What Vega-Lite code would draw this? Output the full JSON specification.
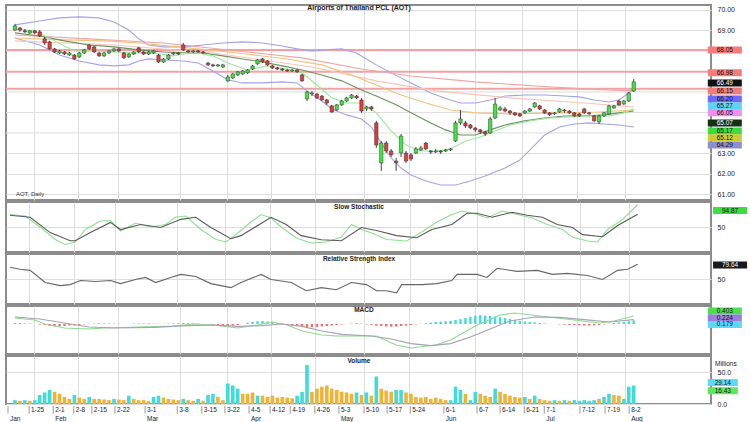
{
"$schema": "https://vega.github.io/schema/vega-lite/v6.json",
"padding": {"left": 4, "top": 2, "right": 0, "bottom": 0},
"background": "white",
"spacing": 2,
"bounds": "flush",
"resolve": {"scale": {"color": "independent"}},
"config": {
  "view": {"stroke": "#8c8c8c", "strokeWidth": 2},
  "axis": {"labelFont": "Liberation Sans", "labelFontSize": 7, "labelColor": "#222", "gridColor": "#dddddd", "gridWidth": 1, "domainColor": "#888", "labelOverlap": false},
  "text": {"font": "Liberation Sans"}
},
"datasets": {
"k": [
{"i":0,"o":69.02,"h":69.32,"l":68.98,"c":69.22,"v":6,"u":"u","m":0.05},
{"i":1,"o":69.12,"h":69.17,"l":68.93,"c":69.02,"v":5,"u":"d","m":0.04},
{"i":2,"o":68.98,"h":69.07,"l":68.88,"c":68.93,"v":6,"u":"u","m":0.03},
{"i":3,"o":68.88,"h":69.02,"l":68.83,"c":68.98,"v":5,"u":"d","m":0.02},
{"i":4,"o":68.98,"h":69.02,"l":68.83,"c":68.88,"v":6,"u":"u","m":0.0},
{"i":5,"o":68.93,"h":69.02,"l":68.68,"c":68.73,"v":14,"u":"u","m":-0.03},
{"i":6,"o":68.59,"h":68.68,"l":68.29,"c":68.39,"v":18,"u":"u","m":-0.06},
{"i":7,"o":68.44,"h":68.49,"l":68.05,"c":68.10,"v":22,"u":"u","m":-0.1},
{"i":8,"o":68.10,"h":68.15,"l":67.90,"c":67.95,"v":19,"u":"d","m":-0.12},
{"i":9,"o":67.90,"h":68.05,"l":67.85,"c":68.00,"v":16,"u":"d","m":-0.12},
{"i":10,"o":67.95,"h":68.00,"l":67.80,"c":67.85,"v":11,"u":"d","m":-0.1},
{"i":11,"o":67.80,"h":67.95,"l":67.76,"c":67.90,"v":8,"u":"d","m":-0.08},
{"i":12,"o":67.80,"h":67.85,"l":67.56,"c":67.61,"v":14,"u":"u","m":-0.08},
{"i":13,"o":67.71,"h":67.95,"l":67.66,"c":67.90,"v":10,"u":"d","m":-0.05},
{"i":14,"o":67.90,"h":68.10,"l":67.85,"c":68.05,"v":8,"u":"d","m":-0.02},
{"i":15,"o":68.29,"h":68.34,"l":68.05,"c":68.10,"v":11,"u":"u","m":0.01},
{"i":16,"o":68.20,"h":68.24,"l":67.90,"c":67.95,"v":8,"u":"d","m":0.02},
{"i":17,"o":67.90,"h":67.95,"l":67.71,"c":67.76,"v":8,"u":"d","m":0.03},
{"i":18,"o":67.76,"h":67.95,"l":67.71,"c":67.90,"v":7,"u":"d","m":0.03},
{"i":19,"o":67.90,"h":68.05,"l":67.85,"c":68.00,"v":6,"u":"d","m":0.02},
{"i":20,"o":68.00,"h":68.15,"l":67.95,"c":68.10,"v":8,"u":"u","m":0.02},
{"i":21,"o":68.10,"h":68.15,"l":67.95,"c":68.00,"v":7,"u":"d","m":0.01},
{"i":22,"o":67.90,"h":67.95,"l":67.61,"c":67.66,"v":6,"u":"d","m":0.0},
{"i":23,"o":67.71,"h":67.90,"l":67.66,"c":67.85,"v":13,"u":"u","m":0.01},
{"i":24,"o":67.85,"h":68.00,"l":67.80,"c":67.95,"v":8,"u":"d","m":0.02},
{"i":25,"o":68.15,"h":68.20,"l":67.90,"c":67.95,"v":6,"u":"d","m":0.02},
{"i":26,"o":67.95,"h":68.00,"l":67.80,"c":67.85,"v":6,"u":"d","m":0.03},
{"i":27,"o":67.85,"h":68.00,"l":67.80,"c":67.95,"v":5,"u":"d","m":0.03},
{"i":28,"o":67.90,"h":68.05,"l":67.85,"c":68.00,"v":11,"u":"u","m":0.02},
{"i":29,"o":67.80,"h":67.85,"l":67.41,"c":67.46,"v":13,"u":"u","m":0.01},
{"i":30,"o":67.46,"h":67.66,"l":67.41,"c":67.61,"v":10,"u":"d","m":0.01},
{"i":31,"o":67.61,"h":67.85,"l":67.56,"c":67.80,"v":8,"u":"d","m":0.02},
{"i":32,"o":67.85,"h":67.95,"l":67.80,"c":67.90,"v":7,"u":"d","m":0.03},
{"i":33,"o":67.90,"h":67.95,"l":67.80,"c":67.85,"v":6,"u":"d","m":0.04},
{"i":34,"o":68.29,"h":68.39,"l":68.00,"c":68.05,"v":8,"u":"u","m":0.05},
{"i":35,"o":68.00,"h":68.05,"l":67.90,"c":67.95,"v":6,"u":"d","m":0.04},
{"i":36,"o":67.95,"h":68.05,"l":67.90,"c":68.00,"v":5,"u":"d","m":0.03},
{"i":37,"o":68.00,"h":68.05,"l":67.90,"c":67.95,"v":8,"u":"u","m":0.02},
{"i":38,"o":67.95,"h":68.00,"l":67.85,"c":67.90,"v":5,"u":"d","m":0.0},
{"i":39,"o":67.41,"h":67.46,"l":67.27,"c":67.32,"v":14,"u":"u","m":-0.03},
{"i":40,"o":67.32,"h":67.37,"l":67.22,"c":67.27,"v":16,"u":"u","m":-0.06},
{"i":41,"o":67.27,"h":67.37,"l":67.22,"c":67.32,"v":11,"u":"d","m":-0.08},
{"i":42,"o":67.22,"h":67.37,"l":67.17,"c":67.32,"v":6,"u":"d","m":-0.1},
{"i":43,"o":66.54,"h":66.83,"l":66.49,"c":66.73,"v":32,"u":"u","m":-0.1},
{"i":44,"o":66.68,"h":66.93,"l":66.63,"c":66.88,"v":29,"u":"u","m":-0.08},
{"i":45,"o":66.83,"h":67.02,"l":66.78,"c":66.98,"v":24,"u":"u","m":-0.05},
{"i":46,"o":66.88,"h":67.07,"l":66.83,"c":67.02,"v":16,"u":"d","m":0.0},
{"i":47,"o":66.93,"h":67.12,"l":66.88,"c":67.07,"v":16,"u":"d","m":0.06},
{"i":48,"o":67.12,"h":67.32,"l":67.07,"c":67.27,"v":18,"u":"d","m":0.1},
{"i":49,"o":67.37,"h":67.61,"l":67.32,"c":67.56,"v":13,"u":"u","m":0.14},
{"i":50,"o":67.61,"h":67.66,"l":67.41,"c":67.46,"v":13,"u":"d","m":0.15},
{"i":51,"o":67.51,"h":67.56,"l":67.27,"c":67.32,"v":11,"u":"d","m":0.12},
{"i":52,"o":67.27,"h":67.32,"l":67.12,"c":67.17,"v":13,"u":"d","m":0.08},
{"i":53,"o":67.17,"h":67.22,"l":67.07,"c":67.12,"v":10,"u":"d","m":0.04},
{"i":54,"o":67.12,"h":67.17,"l":67.02,"c":67.07,"v":11,"u":"d","m":0.0},
{"i":55,"o":67.07,"h":67.12,"l":66.98,"c":67.02,"v":10,"u":"d","m":-0.04},
{"i":56,"o":67.02,"h":67.12,"l":66.98,"c":67.07,"v":9,"u":"d","m":-0.08},
{"i":57,"o":67.07,"h":67.12,"l":66.93,"c":66.98,"v":13,"u":"u","m":-0.1},
{"i":58,"o":66.83,"h":66.88,"l":66.49,"c":66.54,"v":19,"u":"u","m":-0.14},
{"i":59,"o":65.66,"h":66.05,"l":65.56,"c":66.00,"v":61,"u":"u","m":-0.18},
{"i":60,"o":65.90,"h":66.05,"l":65.80,"c":65.95,"v":19,"u":"d","m":-0.16},
{"i":61,"o":65.90,"h":65.95,"l":65.66,"c":65.71,"v":24,"u":"d","m":-0.14},
{"i":62,"o":65.80,"h":65.85,"l":65.56,"c":65.61,"v":27,"u":"d","m":-0.12},
{"i":63,"o":65.61,"h":65.66,"l":65.37,"c":65.46,"v":29,"u":"d","m":-0.1},
{"i":64,"o":65.32,"h":65.37,"l":64.98,"c":65.02,"v":24,"u":"d","m":-0.08},
{"i":65,"o":65.12,"h":65.41,"l":65.07,"c":65.37,"v":22,"u":"d","m":-0.05},
{"i":66,"o":65.37,"h":65.61,"l":65.32,"c":65.56,"v":19,"u":"d","m":-0.03},
{"i":67,"o":65.56,"h":65.76,"l":65.51,"c":65.71,"v":18,"u":"d","m":0.0},
{"i":68,"o":65.71,"h":65.90,"l":65.66,"c":65.85,"v":16,"u":"d","m":0.03},
{"i":69,"o":65.80,"h":65.85,"l":65.66,"c":65.71,"v":18,"u":"u","m":0.04},
{"i":70,"o":65.61,"h":65.71,"l":64.98,"c":65.07,"v":14,"u":"d","m":0.02},
{"i":71,"o":65.17,"h":65.32,"l":65.07,"c":65.27,"v":18,"u":"u","m":-0.02},
{"i":72,"o":65.27,"h":65.32,"l":65.07,"c":65.17,"v":13,"u":"d","m":-0.04},
{"i":73,"o":64.49,"h":64.59,"l":63.27,"c":63.41,"v":43,"u":"u","m":-0.08},
{"i":74,"o":62.54,"h":63.61,"l":62.15,"c":63.51,"v":24,"u":"d","m":-0.1},
{"i":75,"o":63.51,"h":63.61,"l":63.02,"c":63.12,"v":21,"u":"d","m":-0.12},
{"i":76,"o":63.12,"h":63.22,"l":62.83,"c":62.93,"v":19,"u":"d","m":-0.13},
{"i":77,"o":62.63,"h":62.78,"l":62.15,"c":62.54,"v":22,"u":"u","m":-0.13},
{"i":78,"o":63.02,"h":63.95,"l":62.83,"c":63.85,"v":22,"u":"u","m":-0.1},
{"i":79,"o":63.02,"h":63.12,"l":62.54,"c":62.63,"v":18,"u":"d","m":-0.08},
{"i":80,"o":62.93,"h":63.02,"l":62.63,"c":62.73,"v":16,"u":"d","m":-0.05},
{"i":81,"o":63.02,"h":63.32,"l":62.98,"c":63.22,"v":11,"u":"d","m":-0.02},
{"i":82,"o":63.17,"h":63.37,"l":63.12,"c":63.27,"v":10,"u":"d","m":0.01},
{"i":83,"o":63.51,"h":63.56,"l":63.17,"c":63.22,"v":11,"u":"d","m":0.04},
{"i":84,"o":63.12,"h":63.17,"l":62.98,"c":63.07,"v":8,"u":"d","m":0.07},
{"i":85,"o":63.07,"h":63.22,"l":63.02,"c":63.12,"v":10,"u":"d","m":0.1},
{"i":86,"o":63.12,"h":63.17,"l":62.98,"c":63.07,"v":8,"u":"d","m":0.12},
{"i":87,"o":63.12,"h":63.22,"l":63.07,"c":63.17,"v":6,"u":"d","m":0.14},
{"i":88,"o":63.17,"h":63.27,"l":63.12,"c":63.22,"v":6,"u":"u","m":0.16},
{"i":89,"o":63.61,"h":64.59,"l":63.56,"c":64.49,"v":27,"u":"u","m":0.2},
{"i":90,"o":64.49,"h":65.12,"l":64.39,"c":64.68,"v":22,"u":"u","m":0.24},
{"i":91,"o":64.49,"h":64.59,"l":64.24,"c":64.34,"v":16,"u":"d","m":0.3},
{"i":92,"o":64.39,"h":64.44,"l":64.20,"c":64.24,"v":6,"u":"u","m":0.36},
{"i":93,"o":64.24,"h":64.29,"l":64.05,"c":64.15,"v":19,"u":"u","m":0.42},
{"i":94,"o":64.15,"h":64.20,"l":63.95,"c":64.05,"v":16,"u":"d","m":0.44},
{"i":95,"o":64.05,"h":64.10,"l":63.85,"c":63.95,"v":13,"u":"d","m":0.42},
{"i":96,"o":64.00,"h":64.78,"l":63.95,"c":64.68,"v":11,"u":"d","m":0.4},
{"i":97,"o":64.73,"h":65.71,"l":64.68,"c":65.41,"v":24,"u":"u","m":0.38},
{"i":98,"o":65.12,"h":65.32,"l":65.07,"c":65.22,"v":19,"u":"d","m":0.34},
{"i":99,"o":65.17,"h":65.27,"l":65.02,"c":65.07,"v":16,"u":"d","m":0.3},
{"i":100,"o":65.07,"h":65.12,"l":64.88,"c":64.98,"v":13,"u":"d","m":0.25},
{"i":101,"o":64.98,"h":65.02,"l":64.83,"c":64.88,"v":11,"u":"d","m":0.2},
{"i":102,"o":64.93,"h":64.98,"l":64.78,"c":64.83,"v":10,"u":"d","m":0.16},
{"i":103,"o":64.98,"h":65.12,"l":64.93,"c":65.07,"v":11,"u":"u","m":0.12},
{"i":104,"o":65.07,"h":65.22,"l":65.02,"c":65.17,"v":8,"u":"d","m":0.1},
{"i":105,"o":65.27,"h":65.51,"l":65.22,"c":65.46,"v":13,"u":"u","m":0.08},
{"i":106,"o":65.32,"h":65.37,"l":65.12,"c":65.17,"v":8,"u":"d","m":0.05},
{"i":107,"o":65.12,"h":65.17,"l":64.93,"c":64.98,"v":6,"u":"d","m":0.03},
{"i":108,"o":64.98,"h":65.02,"l":64.83,"c":64.88,"v":5,"u":"d","m":0.01},
{"i":109,"o":64.93,"h":65.02,"l":64.88,"c":64.98,"v":6,"u":"u","m":0.0},
{"i":110,"o":65.02,"h":65.22,"l":64.98,"c":65.17,"v":5,"u":"d","m":-0.02},
{"i":111,"o":65.12,"h":65.17,"l":64.98,"c":65.07,"v":6,"u":"u","m":-0.03},
{"i":112,"o":65.07,"h":65.12,"l":64.93,"c":64.98,"v":5,"u":"d","m":-0.05},
{"i":113,"o":64.98,"h":65.02,"l":64.78,"c":64.83,"v":6,"u":"u","m":-0.06},
{"i":114,"o":64.93,"h":64.98,"l":64.78,"c":64.83,"v":5,"u":"u","m":-0.07},
{"i":115,"o":65.17,"h":65.22,"l":64.93,"c":64.98,"v":6,"u":"u","m":-0.08},
{"i":116,"o":64.98,"h":65.02,"l":64.88,"c":64.93,"v":5,"u":"u","m":-0.08},
{"i":117,"o":64.83,"h":64.88,"l":64.54,"c":64.59,"v":6,"u":"u","m":-0.07},
{"i":118,"o":64.54,"h":64.88,"l":64.44,"c":64.83,"v":8,"u":"d","m":-0.05},
{"i":119,"o":64.83,"h":65.02,"l":64.78,"c":64.98,"v":11,"u":"u","m":-0.02},
{"i":120,"o":64.93,"h":65.37,"l":64.88,"c":65.32,"v":16,"u":"u","m":0.02},
{"i":121,"o":65.22,"h":65.37,"l":65.17,"c":65.32,"v":14,"u":"d","m":0.05},
{"i":122,"o":65.56,"h":65.61,"l":65.32,"c":65.37,"v":13,"u":"d","m":0.08},
{"i":123,"o":65.41,"h":65.61,"l":65.37,"c":65.56,"v":8,"u":"u","m":0.1},
{"i":124,"o":65.56,"h":66.00,"l":65.51,"c":65.95,"v":27,"u":"u","m":0.14},
{"i":125,"o":66.05,"h":66.63,"l":66.00,"c":66.49,"v":29,"u":"u","m":0.18}
],
"ln": [
{"s":"bbU","i":0,"v":69.27},{"s":"bbU","i":5,"v":69.46},{"s":"bbU","i":9,"v":69.61},{"s":"bbU","i":13,"v":69.66},{"s":"bbU","i":17,"v":69.61},{"s":"bbU","i":20,"v":69.41},{"s":"bbU","i":23,"v":69.02},{"s":"bbU","i":25,"v":68.59},{"s":"bbU","i":27,"v":68.29},{"s":"bbU","i":30,"v":68.20},{"s":"bbU","i":34,"v":68.20},{"s":"bbU","i":38,"v":68.29},{"s":"bbU","i":42,"v":68.39},{"s":"bbU","i":46,"v":68.44},{"s":"bbU","i":50,"v":68.39},{"s":"bbU","i":54,"v":68.24},{"s":"bbU","i":57,"v":68.10},{"s":"bbU","i":60,"v":68.00},{"s":"bbU","i":63,"v":68.05},{"s":"bbU","i":66,"v":68.10},{"s":"bbU","i":69,"v":67.90},{"s":"bbU","i":71,"v":67.61},{"s":"bbU","i":73,"v":67.32},{"s":"bbU","i":76,"v":66.93},{"s":"bbU","i":80,"v":66.44},{"s":"bbU","i":84,"v":65.95},{"s":"bbU","i":88,"v":65.61},{"s":"bbU","i":90,"v":65.46},{"s":"bbU","i":93,"v":65.46},{"s":"bbU","i":96,"v":65.61},{"s":"bbU","i":99,"v":65.80},{"s":"bbU","i":103,"v":65.85},{"s":"bbU","i":107,"v":65.85},{"s":"bbU","i":111,"v":65.80},{"s":"bbU","i":114,"v":65.76},{"s":"bbU","i":117,"v":65.61},{"s":"bbU","i":120,"v":65.51},{"s":"bbU","i":122,"v":65.61},{"s":"bbU","i":124,"v":65.95},{"s":"bbU","i":125,"v":66.20},
{"s":"bbL","i":0,"v":68.63},{"s":"bbL","i":5,"v":68.29},{"s":"bbL","i":9,"v":67.80},{"s":"bbL","i":13,"v":67.51},{"s":"bbL","i":17,"v":67.32},{"s":"bbL","i":20,"v":67.27},{"s":"bbL","i":23,"v":67.32},{"s":"bbL","i":25,"v":67.51},{"s":"bbL","i":27,"v":67.61},{"s":"bbL","i":30,"v":67.56},{"s":"bbL","i":34,"v":67.51},{"s":"bbL","i":37,"v":67.41},{"s":"bbL","i":40,"v":67.02},{"s":"bbL","i":43,"v":66.59},{"s":"bbL","i":46,"v":66.44},{"s":"bbL","i":50,"v":66.44},{"s":"bbL","i":54,"v":66.49},{"s":"bbL","i":57,"v":66.44},{"s":"bbL","i":59,"v":66.05},{"s":"bbL","i":62,"v":65.56},{"s":"bbL","i":64,"v":65.17},{"s":"bbL","i":67,"v":64.88},{"s":"bbL","i":70,"v":64.68},{"s":"bbL","i":72,"v":64.29},{"s":"bbL","i":74,"v":63.51},{"s":"bbL","i":76,"v":62.78},{"s":"bbL","i":78,"v":62.29},{"s":"bbL","i":80,"v":61.95},{"s":"bbL","i":83,"v":61.66},{"s":"bbL","i":86,"v":61.46},{"s":"bbL","i":89,"v":61.46},{"s":"bbL","i":92,"v":61.66},{"s":"bbL","i":95,"v":61.90},{"s":"bbL","i":99,"v":62.29},{"s":"bbL","i":102,"v":62.68},{"s":"bbL","i":105,"v":63.41},{"s":"bbL","i":107,"v":63.90},{"s":"bbL","i":110,"v":64.29},{"s":"bbL","i":113,"v":64.44},{"s":"bbL","i":116,"v":64.49},{"s":"bbL","i":119,"v":64.44},{"s":"bbL","i":122,"v":64.39},{"s":"bbL","i":125,"v":64.29},
{"s":"maE","i":0,"v":68.49},{"s":"maE","i":20,"v":68.29},{"s":"maE","i":40,"v":67.90},{"s":"maE","i":60,"v":67.22},{"s":"maE","i":73,"v":66.54},{"s":"maE","i":85,"v":66.05},{"s":"maE","i":100,"v":65.71},{"s":"maE","i":115,"v":65.46},{"s":"maE","i":125,"v":65.27},
{"s":"maD","i":0,"v":68.78},{"s":"maD","i":15,"v":68.59},{"s":"maD","i":30,"v":68.39},{"s":"maD","i":45,"v":68.00},{"s":"maD","i":58,"v":67.66},{"s":"maD","i":70,"v":67.12},{"s":"maD","i":80,"v":66.78},{"s":"maD","i":93,"v":66.49},{"s":"maD","i":105,"v":66.29},{"s":"maD","i":115,"v":66.15},{"s":"maD","i":125,"v":66.05},
{"s":"maC","i":0,"v":68.63},{"s":"maC","i":10,"v":68.54},{"s":"maC","i":18,"v":68.49},{"s":"maC","i":25,"v":68.39},{"s":"maC","i":35,"v":68.15},{"s":"maC","i":45,"v":67.90},{"s":"maC","i":55,"v":67.61},{"s":"maC","i":62,"v":67.32},{"s":"maC","i":68,"v":66.83},{"s":"maC","i":73,"v":66.34},{"s":"maC","i":78,"v":65.85},{"s":"maC","i":83,"v":65.46},{"s":"maC","i":88,"v":65.12},{"s":"maC","i":93,"v":64.98},{"s":"maC","i":100,"v":64.93},{"s":"maC","i":110,"v":64.98},{"s":"maC","i":118,"v":65.02},{"s":"maC","i":125,"v":65.12},
{"s":"maA","i":0,"v":68.88},{"s":"maA","i":5,"v":68.73},{"s":"maA","i":10,"v":68.49},{"s":"maA","i":15,"v":68.29},{"s":"maA","i":20,"v":68.20},{"s":"maA","i":25,"v":68.05},{"s":"maA","i":30,"v":67.95},{"s":"maA","i":35,"v":67.90},{"s":"maA","i":38,"v":67.90},{"s":"maA","i":42,"v":67.76},{"s":"maA","i":46,"v":67.61},{"s":"maA","i":50,"v":67.46},{"s":"maA","i":54,"v":67.27},{"s":"maA","i":58,"v":67.07},{"s":"maA","i":62,"v":66.83},{"s":"maA","i":66,"v":66.54},{"s":"maA","i":70,"v":66.10},{"s":"maA","i":73,"v":65.80},{"s":"maA","i":77,"v":65.37},{"s":"maA","i":80,"v":64.98},{"s":"maA","i":84,"v":64.49},{"s":"maA","i":87,"v":64.15},{"s":"maA","i":90,"v":63.90},{"s":"maA","i":93,"v":63.90},{"s":"maA","i":96,"v":64.15},{"s":"maA","i":99,"v":64.39},{"s":"maA","i":103,"v":64.59},{"s":"maA","i":107,"v":64.73},{"s":"maA","i":111,"v":64.83},{"s":"maA","i":115,"v":64.83},{"s":"maA","i":119,"v":64.88},{"s":"maA","i":122,"v":64.98},{"s":"maA","i":125,"v":65.07},
{"s":"maB","i":0,"v":69.07},{"s":"maB","i":4,"v":68.98},{"s":"maB","i":8,"v":68.49},{"s":"maB","i":12,"v":68.00},{"s":"maB","i":16,"v":68.00},{"s":"maB","i":20,"v":67.95},{"s":"maB","i":24,"v":67.90},{"s":"maB","i":28,"v":67.90},{"s":"maB","i":32,"v":67.76},{"s":"maB","i":36,"v":67.95},{"s":"maB","i":40,"v":67.76},{"s":"maB","i":43,"v":67.41},{"s":"maB","i":47,"v":67.07},{"s":"maB","i":51,"v":67.27},{"s":"maB","i":55,"v":67.12},{"s":"maB","i":58,"v":66.93},{"s":"maB","i":61,"v":66.34},{"s":"maB","i":64,"v":65.71},{"s":"maB","i":67,"v":65.46},{"s":"maB","i":70,"v":65.46},{"s":"maB","i":73,"v":64.98},{"s":"maB","i":76,"v":64.10},{"s":"maB","i":79,"v":63.41},{"s":"maB","i":82,"v":63.12},{"s":"maB","i":85,"v":63.12},{"s":"maB","i":88,"v":63.22},{"s":"maB","i":91,"v":63.61},{"s":"maB","i":94,"v":63.80},{"s":"maB","i":97,"v":64.10},{"s":"maB","i":100,"v":64.39},{"s":"maB","i":104,"v":64.59},{"s":"maB","i":108,"v":64.73},{"s":"maB","i":112,"v":64.78},{"s":"maB","i":116,"v":64.83},{"s":"maB","i":120,"v":64.83},{"s":"maB","i":123,"v":64.98},{"s":"maB","i":125,"v":65.17}
],
"hl": [{"p":68.05},{"p":66.98},{"p":66.15}],
"gy": [{"p":64},{"p":65},{"p":66},{"p":67},{"p":68}],
"pbP": [
{"k":"r","p":68.05,"t":"68.05"},{"k":"r","p":66.93,"t":"66.98"},{"k":"last","p":66.44,"t":"66.49"},{"k":"r","p":66.05,"t":"66.15"},{"k":"b","p":65.66,"t":"66.20"},{"k":"cy","p":65.32,"t":"65.27"},{"k":"mg","p":64.98,"t":"66.05"},{"k":"dk","p":64.49,"t":"65.07"},{"k":"gr","p":64.10,"t":"65.17"},{"k":"ye","p":63.76,"t":"65.12"},{"k":"pu","p":63.41,"t":"64.29"}
],
"st": [
{"s":"K","i":0,"v":75},{"s":"K","i":3,"v":72},{"s":"K","i":6,"v":50},{"s":"K","i":9,"v":25},{"s":"K","i":11,"v":15},{"s":"K","i":13,"v":20},{"s":"K","i":15,"v":45},{"s":"K","i":18,"v":62},{"s":"K","i":20,"v":63},{"s":"K","i":22,"v":42},{"s":"K","i":25,"v":58},{"s":"K","i":28,"v":50},{"s":"K","i":31,"v":55},{"s":"K","i":33,"v":70},{"s":"K","i":35,"v":72},{"s":"K","i":38,"v":45},{"s":"K","i":41,"v":25},{"s":"K","i":43,"v":20},{"s":"K","i":45,"v":35},{"s":"K","i":48,"v":60},{"s":"K","i":50,"v":75},{"s":"K","i":52,"v":68},{"s":"K","i":54,"v":50},{"s":"K","i":57,"v":28},{"s":"K","i":60,"v":18},{"s":"K","i":63,"v":20},{"s":"K","i":66,"v":30},{"s":"K","i":68,"v":55},{"s":"K","i":70,"v":45},{"s":"K","i":72,"v":38},{"s":"K","i":75,"v":25},{"s":"K","i":79,"v":22},{"s":"K","i":82,"v":40},{"s":"K","i":85,"v":60},{"s":"K","i":88,"v":75},{"s":"K","i":90,"v":82},{"s":"K","i":93,"v":75},{"s":"K","i":95,"v":68},{"s":"K","i":98,"v":82},{"s":"K","i":101,"v":75},{"s":"K","i":104,"v":68},{"s":"K","i":107,"v":55},{"s":"K","i":110,"v":45},{"s":"K","i":112,"v":30},{"s":"K","i":115,"v":22},{"s":"K","i":117,"v":20},{"s":"K","i":119,"v":45},{"s":"K","i":122,"v":65},{"s":"K","i":125,"v":95},
{"s":"D","i":0,"v":73.5},{"s":"D","i":4,"v":69.4},{"s":"D","i":8,"v":38.8},{"s":"D","i":12,"v":22.4},{"s":"D","i":13,"v":22.4},{"s":"D","i":16,"v":38.8},{"s":"D","i":20,"v":59.2},{"s":"D","i":22,"v":44.9},{"s":"D","i":26,"v":55.1},{"s":"D","i":30,"v":49},{"s":"D","i":34,"v":65.3},{"s":"D","i":37,"v":69.4},{"s":"D","i":40,"v":49},{"s":"D","i":44,"v":26.5},{"s":"D","i":46,"v":32.7},{"s":"D","i":52,"v":69.4},{"s":"D","i":55,"v":55.1},{"s":"D","i":58,"v":32.7},{"s":"D","i":62,"v":24.5},{"s":"D","i":66,"v":22.4},{"s":"D","i":70,"v":49},{"s":"D","i":73,"v":42.9},{"s":"D","i":77,"v":32.7},{"s":"D","i":81,"v":28.6},{"s":"D","i":84,"v":44.9},{"s":"D","i":88,"v":55.1},{"s":"D","i":91,"v":77.6},{"s":"D","i":93,"v":77.6},{"s":"D","i":96,"v":69.4},{"s":"D","i":100,"v":79.6},{"s":"D","i":103,"v":73.5},{"s":"D","i":106,"v":69.4},{"s":"D","i":109,"v":55.1},{"s":"D","i":112,"v":49},{"s":"D","i":114,"v":34.7},{"s":"D","i":118,"v":30.6},{"s":"D","i":121,"v":53.1},{"s":"D","i":125,"v":75.5}
],
"pbS": [{"k":"gr","p":83,"t":"94.87"}],
"rsi": [
{"i":0,"v":73.5},{"i":2,"v":69.4},{"i":4,"v":67.3},{"i":7,"v":42.9},{"i":10,"v":36.7},{"i":12,"v":38.8},{"i":14,"v":46.9},{"i":17,"v":44.9},{"i":20,"v":46.9},{"i":22,"v":40.8},{"i":25,"v":49},{"i":27,"v":53.1},{"i":29,"v":42.9},{"i":32,"v":53.1},{"i":34,"v":59.2},{"i":37,"v":55.1},{"i":40,"v":40.8},{"i":44,"v":32.7},{"i":46,"v":42.9},{"i":50,"v":59.2},{"i":52,"v":49},{"i":56,"v":42.9},{"i":59,"v":26.5},{"i":62,"v":32.7},{"i":65,"v":28.6},{"i":68,"v":42.9},{"i":71,"v":38.8},{"i":73,"v":26.5},{"i":75,"v":26.5},{"i":77,"v":22.4},{"i":78,"v":38.8},{"i":82,"v":38.8},{"i":85,"v":40.8},{"i":88,"v":46.9},{"i":89,"v":59.2},{"i":93,"v":59.2},{"i":95,"v":53.1},{"i":97,"v":71.4},{"i":101,"v":65.3},{"i":105,"v":67.3},{"i":108,"v":59.2},{"i":111,"v":61.2},{"i":115,"v":57.1},{"i":118,"v":49},{"i":121,"v":67.3},{"i":123,"v":69.4},{"i":125,"v":79.6}
],
"pbR": [{"k":"dk","p":78,"t":"79.64"}],
"md": [
{"s":"macd","i":0,"v":0.30},{"s":"macd","i":4,"v":0.20},{"s":"macd","i":6,"v":0.0},{"s":"macd","i":10,"v":-0.20},{"s":"macd","i":15,"v":-0.25},{"s":"macd","i":18,"v":-0.20},{"s":"macd","i":25,"v":-0.15},{"s":"macd","i":32,"v":-0.10},{"s":"macd","i":36,"v":0.0},{"s":"macd","i":40,"v":-0.05},{"s":"macd","i":45,"v":-0.20},{"s":"macd","i":49,"v":-0.05},{"s":"macd","i":52,"v":0.10},{"s":"macd","i":55,"v":-0.05},{"s":"macd","i":58,"v":-0.35},{"s":"macd","i":62,"v":-0.55},{"s":"macd","i":65,"v":-0.60},{"s":"macd","i":68,"v":-0.60},{"s":"macd","i":73,"v":-0.60},{"s":"macd","i":77,"v":-1.05},{"s":"macd","i":80,"v":-1.20},{"s":"macd","i":85,"v":-1.05},{"s":"macd","i":88,"v":-0.80},{"s":"macd","i":93,"v":-0.10},{"s":"macd","i":98,"v":0.45},{"s":"macd","i":101,"v":0.55},{"s":"macd","i":106,"v":0.40},{"s":"macd","i":113,"v":0.20},{"s":"macd","i":118,"v":0.05},{"s":"macd","i":121,"v":0.15},{"s":"macd","i":125,"v":0.40},
{"s":"sig","i":0,"v":0.35},{"s":"sig","i":5,"v":0.25},{"s":"sig","i":10,"v":0.05},{"s":"sig","i":15,"v":-0.15},{"s":"sig","i":20,"v":-0.20},{"s":"sig","i":28,"v":-0.17},{"s":"sig","i":35,"v":-0.08},{"s":"sig","i":40,"v":-0.05},{"s":"sig","i":45,"v":-0.12},{"s":"sig","i":50,"v":-0.08},{"s":"sig","i":54,"v":0.0},{"s":"sig","i":58,"v":-0.12},{"s":"sig","i":62,"v":-0.35},{"s":"sig","i":66,"v":-0.52},{"s":"sig","i":72,"v":-0.60},{"s":"sig","i":76,"v":-0.75},{"s":"sig","i":80,"v":-0.98},{"s":"sig","i":84,"v":-1.08},{"s":"sig","i":88,"v":-0.98},{"s":"sig","i":92,"v":-0.65},{"s":"sig","i":96,"v":-0.25},{"s":"sig","i":100,"v":0.15},{"s":"sig","i":105,"v":0.35},{"s":"sig","i":110,"v":0.33},{"s":"sig","i":115,"v":0.22},{"s":"sig","i":120,"v":0.10},{"s":"sig","i":125,"v":0.22}
],
"pbM": [{"k":"gr","p":0.65,"t":"0.403"},{"k":"pu","p":0.30,"t":"0.224"},{"k":"cy","p":-0.02,"t":"0.179"}],
"pbV": [{"k":"cy","p":33.5,"t":"29.14"},{"k":"gr","p":20.7,"t":"16.43"}],
"ax": [
{"x":-0.4,"d":"","mo":"Jan"},{"x":3.8,"d":"1-25","mo":""},{"x":8.6,"d":"2-1","mo":"Feb"},{"x":12.7,"d":"2-8","mo":""},{"x":16.3,"d":"2-15","mo":""},{"x":20.9,"d":"2-22","mo":""},{"x":26.9,"d":"3-1","mo":"Mar"},{"x":33.3,"d":"3-8","mo":""},{"x":38.2,"d":"3-15","mo":""},{"x":42.8,"d":"3-22","mo":""},{"x":47.6,"d":"4-5","mo":"Apr"},{"x":51.8,"d":"4-12","mo":""},{"x":55.8,"d":"4-19","mo":""},{"x":60.7,"d":"4-26","mo":""},{"x":65.5,"d":"5-3","mo":"May"},{"x":70.5,"d":"5-10","mo":""},{"x":75.1,"d":"5-17","mo":""},{"x":79.7,"d":"5-24","mo":""},{"x":86.4,"d":"6-1","mo":"Jun"},{"x":93,"d":"6-7","mo":""},{"x":97.6,"d":"6-14","mo":""},{"x":102.4,"d":"6-21","mo":""},{"x":106.4,"d":"7-1","mo":"Jul"},{"x":113.5,"d":"7-12","mo":""},{"x":118.5,"d":"7-19","mo":""},{"x":123.3,"d":"8-2","mo":"Aug"}
]
},
"vconcat": [
{
 "width": 705, "height": 195,
 "resolve": {"scale": {"color": "independent"}},
 "layer": [
  {"data": {"name": "gy"}, "mark": {"type": "rule", "color": "#dddddd", "strokeWidth": 1},
   "encoding": {"y": {"field": "p", "type": "quantitative", "title": null, "scale": {"domain": [60.73, 70.24], "nice": false, "zero": false},
     "axis": {"orient": "right", "values": [61,62,63,69,70], "format": ".2f", "grid": true, "ticks": false, "domain": false, "labelPadding": 6, "labelOverlap": false}}}},
  {"data": {"name": "hl"}, "mark": {"type": "rule", "color": "#f2a2a2", "strokeWidth": 2},
   "encoding": {"y": {"field": "p", "type": "quantitative", "title": null}}},
  {"data": {"name": "ln"}, "mark": {"type": "line", "strokeWidth": 1.1},
   "encoding": {"x": {"field": "i", "type": "quantitative", "title": null, "scale": {"domain": [-0.8, 139.6], "nice": false, "zero": false},
     "axis": {"values": [3.8,8.6,12.7,16.3,20.9,26.9,33.3,38.2,42.8,47.6,51.8,55.8,60.7,65.5,70.5,75.1,79.7,86.4,93,97.6,102.4,106.4,113.5,118.5,123.3], "grid": true, "labels": false, "ticks": false, "domain": false}},
    "y": {"field": "v", "type": "quantitative", "title": null},
    "color": {"field": "s", "type": "nominal", "legend": null, "scale": {"domain": ["bbU","bbL","maE","maD","maC","maA","maB"], "range": ["#a3a3ec","#a3a3ec","#f6c6b6","#f2a4a4","#f3c27e","#6f8f63","#9be89b"]}}}},
  {"data": {"name": "k"}, "mark": {"type": "rule", "color": "#444", "strokeWidth": 1},
   "encoding": {"x": {"field": "i", "type": "quantitative", "title": null}, "y": {"field": "l", "type": "quantitative", "title": null}, "y2": {"field": "h"}}},
  {"data": {"name": "k"}, "mark": {"type": "bar", "width": 3.4, "stroke": "#333", "strokeWidth": 0.5},
   "encoding": {"x": {"field": "i", "type": "quantitative", "title": null}, "y": {"field": "o", "type": "quantitative", "title": null}, "y2": {"field": "c"},
    "color": {"condition": {"test": "datum.c > datum.o", "value": "#44e444"}, "value": "#e03c3c"}}},
  {"data": {"values": [{}]}, "mark": {"type": "text", "text": "Airports of Thailand PCL (AOT)", "fontSize": 7, "fontWeight": "bold", "color": "#222", "baseline": "middle"},
   "encoding": {"x": {"datum": 69.5, "type": "quantitative"}, "y": {"datum": 70.1, "type": "quantitative"}}},
  {"data": {"values": [{}]}, "mark": {"type": "text", "text": "AOT, Daily", "fontSize": 6, "color": "#333", "align": "left", "baseline": "middle"},
   "encoding": {"x": {"datum": 0.2, "type": "quantitative"}, "y": {"datum": 61.0, "type": "quantitative"}}},
  {"data": {"name": "pbP"}, "mark": {"type": "tick", "orient": "horizontal", "size": 34, "thickness": 7, "opacity": 1},
   "encoding": {"x": {"datum": 143.4, "type": "quantitative"}, "y": {"field": "p", "type": "quantitative", "title": null},
    "color": {"field": "k", "type": "nominal", "legend": null, "scale": {"domain": ["r","last","b","cy","mg","dk","gr","ye","pu"], "range": ["#f47c7c","#111111","#6a6aff","#5fd3f5","#f08ef0","#143214","#3fdc3f","#cccc3a","#8d8dd0"]}}}},
  {"data": {"name": "pbP"}, "mark": {"type": "text", "fontSize": 6.5, "align": "center", "baseline": "middle"},
   "encoding": {"x": {"datum": 143.4, "type": "quantitative"}, "y": {"field": "p", "type": "quantitative", "title": null}, "text": {"field": "t"},
    "color": {"condition": {"test": "datum.k=='last' || datum.k=='dk'", "value": "#ffffff"}, "value": "#111111"}}}
 ]
},
{
 "width": 705, "height": 50,
 "resolve": {"scale": {"color": "independent"}},
 "layer": [
  {"data": {"name": "st"}, "mark": {"type": "line", "strokeWidth": 1.1},
   "encoding": {"x": {"field": "i", "type": "quantitative", "title": null, "scale": {"domain": [-0.8, 139.6], "nice": false, "zero": false},
     "axis": {"values": [3.8,8.6,12.7,16.3,20.9,26.9,33.3,38.2,42.8,47.6,51.8,55.8,60.7,65.5,70.5,75.1,79.7,86.4,93,97.6,102.4,106.4,113.5,118.5,123.3], "grid": true, "labels": false, "ticks": false, "domain": false}},
    "y": {"field": "v", "type": "quantitative", "title": null, "scale": {"domain": [0, 100], "nice": false}, "axis": {"orient": "right", "values": [50], "grid": true, "ticks": false, "domain": false, "labelPadding": 6}},
    "color": {"field": "s", "type": "nominal", "legend": null, "scale": {"domain": ["K","D"], "range": ["#8ee08e","#5a5a5a"]}}}},
  {"data": {"values": [{}]}, "mark": {"type": "text", "text": "Slow Stochastic", "fontSize": 6.5, "fontWeight": "bold", "color": "#222", "baseline": "middle"},
   "encoding": {"x": {"datum": 69.5, "type": "quantitative"}, "y": {"datum": 91, "type": "quantitative"}}},
  {"data": {"name": "pbS"}, "mark": {"type": "tick", "orient": "horizontal", "size": 34, "thickness": 7, "opacity": 1, "color": "#3fdc3f"},
   "encoding": {"x": {"datum": 143.4, "type": "quantitative"}, "y": {"field": "p", "type": "quantitative", "title": null}}},
  {"data": {"name": "pbS"}, "mark": {"type": "text", "fontSize": 6.5, "align": "center", "baseline": "middle", "color": "#111"},
   "encoding": {"x": {"datum": 143.4, "type": "quantitative"}, "y": {"field": "p", "type": "quantitative", "title": null}, "text": {"field": "t"}}}
 ]
},
{
 "width": 705, "height": 50,
 "layer": [
  {"data": {"name": "rsi"}, "mark": {"type": "line", "strokeWidth": 1.1, "color": "#666"},
   "encoding": {"x": {"field": "i", "type": "quantitative", "title": null, "scale": {"domain": [-0.8, 139.6], "nice": false, "zero": false},
     "axis": {"values": [3.8,8.6,12.7,16.3,20.9,26.9,33.3,38.2,42.8,47.6,51.8,55.8,60.7,65.5,70.5,75.1,79.7,86.4,93,97.6,102.4,106.4,113.5,118.5,123.3], "grid": true, "labels": false, "ticks": false, "domain": false}},
    "y": {"field": "v", "type": "quantitative", "title": null, "scale": {"domain": [0, 100], "nice": false}, "axis": {"orient": "right", "values": [50], "grid": true, "ticks": false, "domain": false, "labelPadding": 6}}}},
  {"data": {"values": [{}]}, "mark": {"type": "text", "text": "Relative Strength Index", "fontSize": 6.5, "fontWeight": "bold", "color": "#222", "baseline": "middle"},
   "encoding": {"x": {"datum": 69.5, "type": "quantitative"}, "y": {"datum": 90, "type": "quantitative"}}},
  {"data": {"name": "pbR"}, "mark": {"type": "tick", "orient": "horizontal", "size": 34, "thickness": 7, "opacity": 1, "color": "#1a1a1a"},
   "encoding": {"x": {"datum": 143.4, "type": "quantitative"}, "y": {"field": "p", "type": "quantitative", "title": null}}},
  {"data": {"name": "pbR"}, "mark": {"type": "text", "fontSize": 6.5, "align": "center", "baseline": "middle", "color": "#fff"},
   "encoding": {"x": {"datum": 143.4, "type": "quantitative"}, "y": {"field": "p", "type": "quantitative", "title": null}, "text": {"field": "t"}}}
 ]
},
{
 "width": 705, "height": 48,
 "resolve": {"scale": {"color": "independent"}},
 "layer": [
  {"data": {"name": "k"}, "mark": {"type": "bar", "width": 2.4},
   "encoding": {"x": {"field": "i", "type": "quantitative", "title": null, "scale": {"domain": [-0.8, 139.6], "nice": false, "zero": false},
     "axis": {"values": [3.8,8.6,12.7,16.3,20.9,26.9,33.3,38.2,42.8,47.6,51.8,55.8,60.7,65.5,70.5,75.1,79.7,86.4,93,97.6,102.4,106.4,113.5,118.5,123.3], "grid": true, "labels": false, "ticks": false, "domain": false}},
    "y": {"field": "m", "type": "quantitative", "title": null, "scale": {"domain": [-1.5, 0.9], "nice": false, "zero": false}, "axis": {"orient": "right", "values": [0], "labels": false, "grid": false, "ticks": false, "domain": false}},
    "y2": {"datum": 0},
    "color": {"condition": {"test": "datum.m >= 0", "value": "#3fdcdc"}, "value": "#f07070"}}},
  {"data": {"name": "md"}, "mark": {"type": "line", "strokeWidth": 1.1},
   "encoding": {"x": {"field": "i", "type": "quantitative", "title": null}, "y": {"field": "v", "type": "quantitative", "title": null},
    "color": {"field": "s", "type": "nominal", "legend": null, "scale": {"domain": ["macd","sig"], "range": ["#8fd88f","#a3a3b3"]}}}},
  {"data": {"values": [{}]}, "mark": {"type": "text", "text": "MACD", "fontSize": 6.5, "fontWeight": "bold", "color": "#222", "baseline": "middle"},
   "encoding": {"x": {"datum": 70.5, "type": "quantitative"}, "y": {"datum": 0.7, "type": "quantitative"}}},
  {"data": {"name": "pbM"}, "mark": {"type": "tick", "orient": "horizontal", "size": 34, "thickness": 7, "opacity": 1},
   "encoding": {"x": {"datum": 143.4, "type": "quantitative"}, "y": {"field": "p", "type": "quantitative", "title": null},
    "color": {"field": "k", "type": "nominal", "legend": null, "scale": {"domain": ["gr","pu","cy"], "range": ["#4fdc4f","#9a7ee0","#5fd8f5"]}}}},
  {"data": {"name": "pbM"}, "mark": {"type": "text", "fontSize": 6.5, "align": "center", "baseline": "middle", "color": "#111"},
   "encoding": {"x": {"datum": 143.4, "type": "quantitative"}, "y": {"field": "p", "type": "quantitative", "title": null}, "text": {"field": "t"}}}
 ]
},
{
 "width": 705, "height": 48,
 "resolve": {"scale": {"color": "independent"}},
 "layer": [
  {"data": {"name": "k"}, "mark": {"type": "bar", "width": 3.6},
   "encoding": {"x": {"field": "i", "type": "quantitative", "title": null, "scale": {"domain": [-0.8, 139.6], "nice": false, "zero": false},
     "axis": {"values": [3.8,8.6,12.7,16.3,20.9,26.9,33.3,38.2,42.8,47.6,51.8,55.8,60.7,65.5,70.5,75.1,79.7,86.4,93,97.6,102.4,106.4,113.5,118.5,123.3], "grid": true, "labels": false, "ticks": false, "domain": false}},
    "y": {"field": "v", "type": "quantitative", "title": null, "scale": {"domain": [0, 75], "nice": false}, "axis": {"orient": "right", "values": [0, 50], "format": ".1f", "grid": true, "ticks": false, "domain": false, "labelPadding": 6}},
    "color": {"field": "u", "type": "nominal", "legend": null, "scale": {"domain": ["u","d"], "range": ["#3fdcdc","#f2b233"]}}}},
  {"data": {"values": [{}]}, "mark": {"type": "text", "text": "Volume", "fontSize": 6.5, "fontWeight": "bold", "color": "#222", "baseline": "middle"},
   "encoding": {"x": {"datum": 69.5, "type": "quantitative"}, "y": {"datum": 67, "type": "quantitative"}}},
  {"data": {"values": [{}]}, "mark": {"type": "text", "text": "Millions", "fontSize": 6.5, "color": "#222", "baseline": "middle"},
   "encoding": {"x": {"datum": 143.6, "type": "quantitative"}, "y": {"datum": 63, "type": "quantitative"}}},
  {"data": {"name": "pbV"}, "mark": {"type": "tick", "orient": "horizontal", "size": 30, "thickness": 7, "opacity": 1},
   "encoding": {"x": {"datum": 143, "type": "quantitative"}, "y": {"field": "p", "type": "quantitative", "title": null},
    "color": {"field": "k", "type": "nominal", "legend": null, "scale": {"domain": ["cy","gr"], "range": ["#5fd8f5","#5fe65f"]}}}},
  {"data": {"name": "pbV"}, "mark": {"type": "text", "fontSize": 6.5, "align": "center", "baseline": "middle", "color": "#111"},
   "encoding": {"x": {"datum": 143, "type": "quantitative"}, "y": {"field": "p", "type": "quantitative", "title": null}, "text": {"field": "t"}}}
 ]
},
{
 "width": 705, "height": 17,
 "view": {"stroke": null},
 "data": {"name": "ax"},
 "layer": [
  {"mark": {"type": "rule", "color": "#9a9a9a", "strokeWidth": 1},
   "encoding": {"x": {"field": "x", "type": "quantitative", "title": null, "axis": null, "scale": {"domain": [-0.8, 139.6], "nice": false, "zero": false}}, "y": {"datum": 2, "type": "quantitative", "scale": {"domain": [0, 2], "nice": false}, "axis": null}, "y2": {"datum": 1.1}}},
  {"mark": {"type": "text", "fontSize": 6.5, "color": "#222", "align": "left", "baseline": "middle", "dx": 2},
   "encoding": {"x": {"field": "x", "type": "quantitative", "title": null, "axis": null}, "y": {"datum": 1.5, "type": "quantitative", "axis": null}, "text": {"field": "d"}}},
  {"mark": {"type": "text", "fontSize": 6.5, "color": "#222", "align": "left", "baseline": "middle", "dx": 2},
   "encoding": {"x": {"field": "x", "type": "quantitative", "title": null, "axis": null}, "y": {"datum": 0.5, "type": "quantitative", "axis": null}, "text": {"field": "mo"}}}
 ]
}
]
}
